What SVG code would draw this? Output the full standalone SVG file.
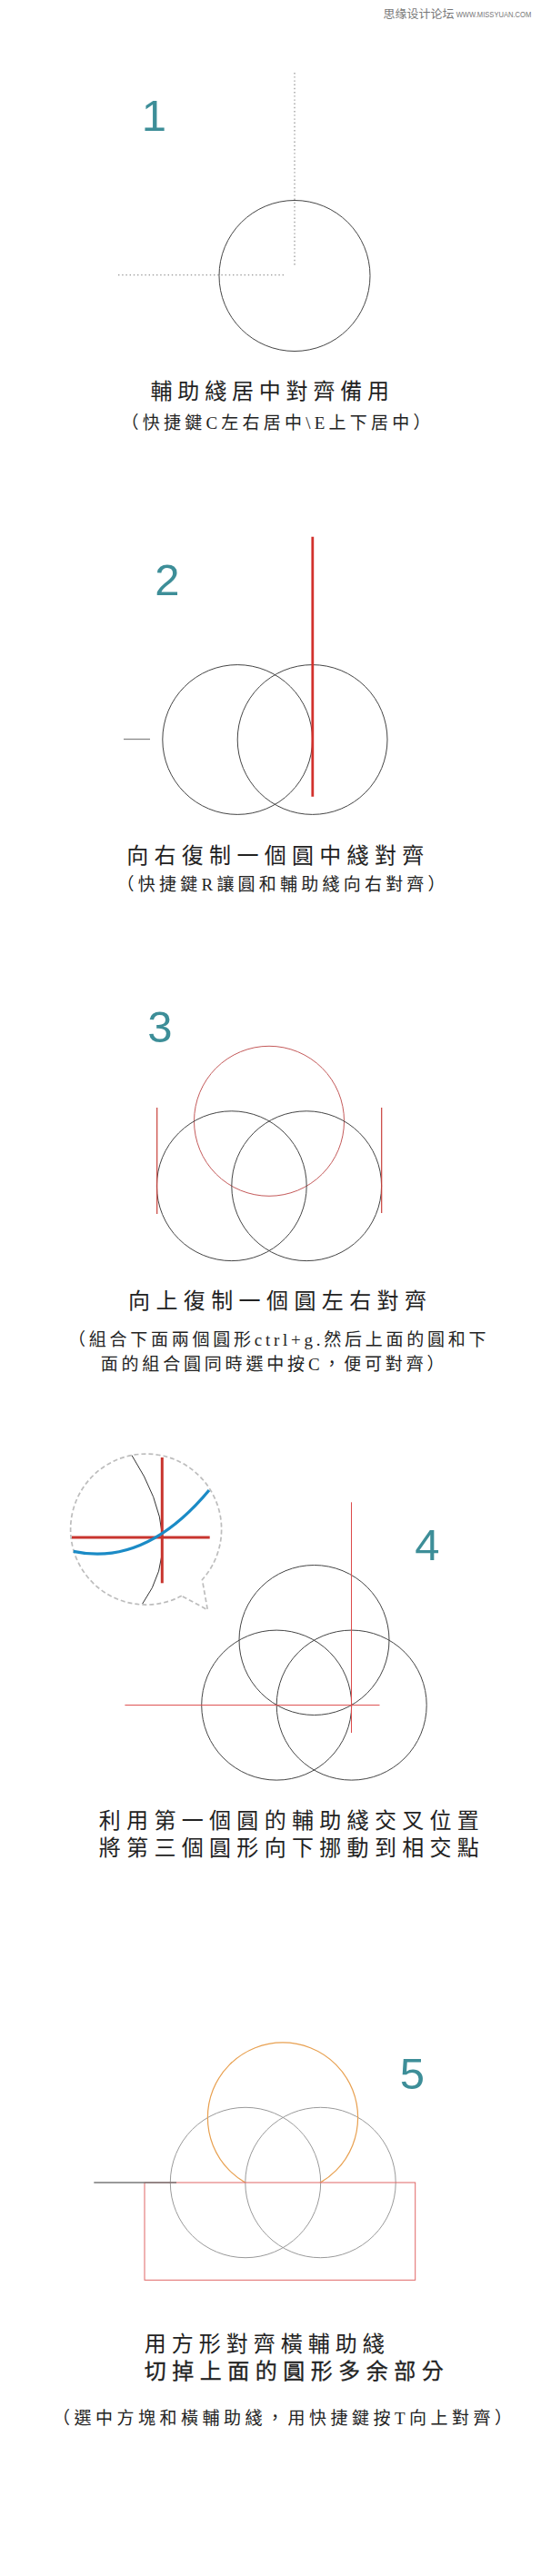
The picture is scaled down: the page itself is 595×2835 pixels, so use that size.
<svg xmlns="http://www.w3.org/2000/svg" width="595" height="2835" viewBox="0 0 595 2835">
<style>
.num{font-family:"Liberation Sans",Arial,sans-serif;font-size:49px;fill:#3d8e98;text-anchor:middle}
.t{font-family:"Liberation Serif","Noto Sans CJK TC",serif;font-size:24px;fill:#222}
.s{font-size:19px}
.c{fill:none;stroke:#444;stroke-width:1}
.cg{fill:none;stroke:#9a9a9a;stroke-width:1}
.dot{stroke:#999;stroke-width:1.3;stroke-dasharray:1.4 2.8;fill:none}
.wm{font-family:"Noto Sans CJK SC",sans-serif;font-size:12.5px;fill:#777}
.wm2{font-family:"Liberation Sans",sans-serif;font-size:8.5px;fill:#777}
</style>
<defs>
<clipPath id="above5"><rect x="0" y="2200" width="595" height="202"/></clipPath>
</defs>
<rect width="595" height="2835" fill="#fff"/>

<g id="watermark">
<text class="wm" x="421.5" y="20" textLength="78" lengthAdjust="spacingAndGlyphs">思缘设计论坛</text>
<text class="wm2" x="501.7" y="19.3" textLength="82.6" lengthAdjust="spacingAndGlyphs">WWW.MISSYUAN.COM</text>
</g>

<g id="step1">
<text class="num" x="169.5" y="144">1</text>
<line class="dot" x1="324" y1="80" x2="324" y2="292"/>
<line class="dot" x1="130" y1="302.7" x2="312" y2="302.7"/>
<circle class="c" cx="324" cy="303.5" r="83"/>
<text class="t" x="165.5" y="439" textLength="262.5" lengthAdjust="spacing">輔助綫居中對齊備用</text>
<text class="t s" x="133.5" y="472" textLength="340" lengthAdjust="spacing">（快捷鍵C左右居中\E上下居中）</text>
</g>

<g id="step2">
<text class="num" x="184" y="655">2</text>
<line x1="136" y1="813.5" x2="165" y2="813.5" stroke="#888" stroke-width="1.3"/>
<circle class="c" cx="261.2" cy="814" r="82.4"/>
<circle class="c" cx="343.6" cy="814" r="82.4"/>
<line x1="343.8" y1="590.7" x2="343.8" y2="876.7" stroke="#d2322d" stroke-width="2.8"/>
<text class="t" x="139.2" y="950" textLength="327" lengthAdjust="spacing">向右復制一個圓中綫對齊</text>
<text class="t s" x="128.6" y="980.4" textLength="361" lengthAdjust="spacing">（快捷鍵R讓圓和輔助綫向右對齊）</text>
</g>

<g id="step3">
<text class="num" x="176" y="1146.7">3</text>
<circle cx="296" cy="1233.8" r="82.5" fill="none" stroke="#c45a5a" stroke-width="1"/>
<circle class="c" cx="254.8" cy="1305.2" r="82.4"/>
<circle class="c" cx="337.2" cy="1305.2" r="82.4"/>
<line x1="172.7" y1="1219" x2="172.7" y2="1336" stroke="#c8403a" stroke-width="1.2"/>
<line x1="419.7" y1="1219" x2="419.7" y2="1335" stroke="#c8403a" stroke-width="1.2"/>
<text class="t" x="141" y="1440" textLength="328" lengthAdjust="spacing">向上復制一個圓左右對齊</text>
<text class="t s" x="75" y="1480.5" textLength="459.4" lengthAdjust="spacing">（組合下面兩個圓形ctrl+g.然后上面的圓和下</text>
<text class="t s" x="110.7" y="1508" textLength="377.8" lengthAdjust="spacing">面的組合圓同時選中按C，便可對齊）</text>
</g>

<g id="step4-callout">
<path d="M199.7,1756.3 A83,83 0 1 1 222.4,1738.5 L228.3,1771.7 Z" fill="none" stroke="#bdbdbd" stroke-width="1.7" stroke-dasharray="5 3"/>
<path d="M145,1601.7 Q206.2,1696.6 156.7,1765" fill="none" stroke="#333" stroke-width="1"/>
<line x1="79" y1="1692" x2="230.7" y2="1692" stroke="#c8352e" stroke-width="3"/>
<line x1="178.3" y1="1604" x2="178.3" y2="1742.3" stroke="#c8352e" stroke-width="3"/>
<path d="M80.7,1707.3 C130,1718 180,1700 230,1640" fill="none" stroke="#1b8bc6" stroke-width="3.3"/>
</g>

<g id="step4">
<text class="num" x="470" y="1716.5">4</text>
<circle class="c" cx="345.5" cy="1805" r="82.5"/>
<circle class="c" cx="304.2" cy="1876.6" r="82.5"/>
<circle class="c" cx="386.7" cy="1876.6" r="82.5"/>
<line x1="386.5" y1="1653.3" x2="386.5" y2="1907" stroke="#dd4a4a" stroke-width="1"/>
<line x1="137.4" y1="1876.6" x2="417.5" y2="1876.6" stroke="#dd4a4a" stroke-width="1"/>
<text class="t" x="108.8" y="2011.7" textLength="418" lengthAdjust="spacing">利用第一個圓的輔助綫交叉位置</text>
<text class="t" x="108.8" y="2042.3" textLength="418" lengthAdjust="spacing">將第三個圓形向下挪動到相交點</text>
</g>

<g id="step5">
<text class="num" x="453.5" y="2299.3">5</text>
<circle class="cg" cx="270" cy="2402" r="82.7"/>
<circle class="cg" cx="352.5" cy="2402" r="82.7"/>
<circle cx="311" cy="2330.5" r="82.6" fill="none" stroke="#e8a050" stroke-width="1.2" clip-path="url(#above5)"/>
<rect x="159" y="2402" width="297.7" height="107.3" fill="none" stroke="#e06666" stroke-width="1"/>
<line x1="103.3" y1="2402" x2="194" y2="2402" stroke="#777" stroke-width="1.3"/>
<text class="t" x="158.8" y="2588" font-size="22" textLength="264" lengthAdjust="spacing">用方形對齊橫輔助綫</text>
<text class="t" x="158.8" y="2618" font-size="22" stroke="#222" stroke-width="0.3" textLength="329" lengthAdjust="spacing">切掉上面的圓形多余部分</text>
<text class="t s" x="58" y="2668" textLength="505" lengthAdjust="spacing">（選中方塊和橫輔助綫，用快捷鍵按T向上對齊）</text>
</g>
</svg>
